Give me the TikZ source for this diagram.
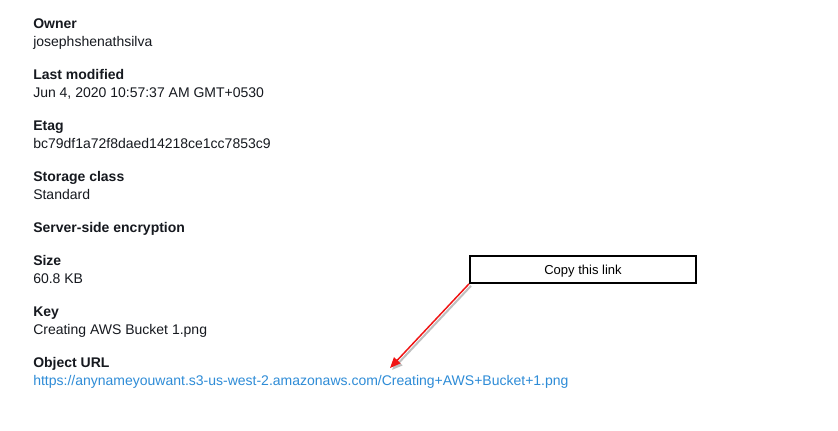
\documentclass[tikz,border=0pt]{standalone}
\usepackage{fontspec}
\setmainfont{Liberation Sans}
\usetikzlibrary{arrows.meta}
\definecolor{txt}{RGB}{22,25,31}
\definecolor{link}{RGB}{46,140,215}
\definecolor{arrowred}{RGB}{240,20,20}
\tikzset{
  lbl/.style={anchor=base west, inner sep=0pt, text=txt, font=\fontsize{10.5pt}{12pt}\selectfont\bfseries},
  val/.style={anchor=base west, inner sep=0pt, text=txt, font=\fontsize{10.5pt}{12pt}\selectfont},
  url/.style={anchor=base west, inner sep=0pt, text=link, font=\fontsize{10.5pt}{12pt}\selectfont},
  callout/.style={draw=black, line width=1.5pt, minimum width=169.5pt, minimum height=20pt, inner sep=0pt, text depth=0pt, font=\fontsize{9.75pt}{11pt}\selectfont},
  pointer/.style={draw=arrowred, line width=1.1pt, -{Triangle[length=8pt,width=6.5pt]}},
  pshadow/.style={draw=black!25, line width=1.5pt, -{Triangle[length=8pt,width=6.5pt]}}
}
\begin{document}
\begin{tikzpicture}[x=0.75pt,y=-0.75pt]
\useasboundingbox (0,0) rectangle (838,430);
\fill[white] (0,0) rectangle (838,430);
\node[lbl] (l1) at (33,28) {Owner};
\node[val] (v1) at (33,46) {josephshenathsilva};
\node[lbl] (l2) at (33,79) {Last modified};
\node[val] (v2) at (33,97) {Jun 4, 2020 10:57:37 AM GMT+0530};
\node[lbl] (l3) at (33,130) {Etag};
\node[val] (v3) at (33,148) {bc79df1a72f8daed14218ce1cc7853c9};
\node[lbl] (l4) at (33,181) {Storage class};
\node[val] (v4) at (33,199) {Standard};
\node[lbl] (l5) at (33,232) {Server-side encryption};
\node[lbl] (l6) at (33,265) {Size};
\node[val] (v6) at (33,283) {60.8 KB};
\node[lbl] (l7) at (33,316) {Key};
\node[val] (v7) at (33,334) {Creating AWS Bucket 1.png};
\node[lbl] (l8) at (33,367) {Object URL};
\node[url] (v8) at (33,385) {https://anynameyouwant.s3-us-west-2.amazonaws.com/Creating+AWS+Bucket+1.png};
\node[callout] (box) at (583,269.5) {Copy this link};
\coordinate (tip) at (390,368);
\coordinate (tips) at (392,370);
\draw[pshadow] ([shift={(2,2)}]box.south west) -- (tips);
\draw[pointer] (box.south west) -- (tip);
\end{tikzpicture}
\end{document}
